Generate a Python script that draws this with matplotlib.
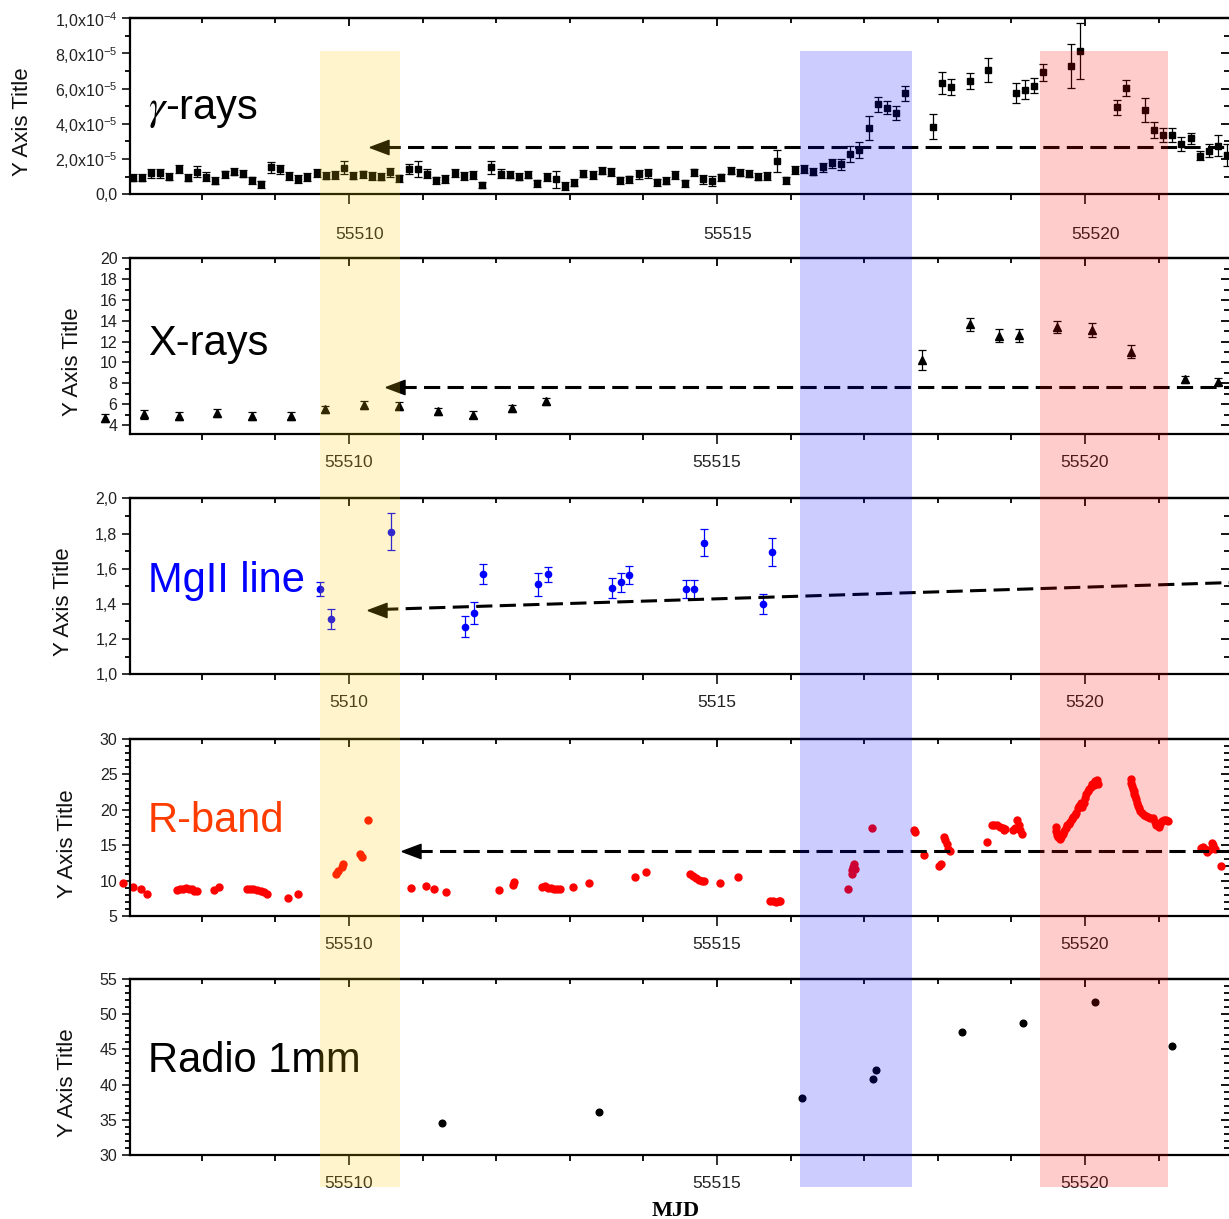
"""Multi-band light curve: gamma, X-ray, MgII, R-band and 1 mm radio vs MJD."""

import matplotlib
matplotlib.use("Agg")
import matplotlib.pyplot as plt
import numpy as np
from matplotlib.patches import Rectangle
from matplotlib.ticker import FixedLocator, MultipleLocator, NullFormatter
from matplotlib.transforms import ScaledTranslation, blended_transform_factory

plt.rcParams["font.family"] = ["Liberation Sans", "DejaVu Sans"]
plt.rcParams["mathtext.fontset"] = "custom"
plt.rcParams["mathtext.rm"] = "Liberation Sans"
plt.rcParams["mathtext.it"] = "Liberation Sans:italic"

W, H, DPI = 1229, 1219, 100

# ---- shared x axis -----------------------------------------------------------
X_LIM = (55507.024, 55521.957)
X_TICKS = [55510, 55515, 55520]
X_LABELS = ["55510", "55515", "55520"]
X_LABELS_MGII = ["5510", "5515", "5520"]

# ---- gamma rays (flux in units of 1e-5) -------------------------------------
GAMMA_YTICKS = [0, 2e-5, 4e-5, 6e-5, 8e-5, 1e-4]
GAMMA_YLABELS = ["0,0", "2,0x10$^{-5}$", "4,0x10$^{-5}$", "6,0x10$^{-5}$",
                 "8,0x10$^{-5}$", "1,0x10$^{-4}$"]
GAMMA_MJD = [
    55507.060, 55507.185, 55507.310, 55507.435, 55507.560, 55507.685, 55507.810, 55507.935,
    55508.060, 55508.185, 55508.310, 55508.435, 55508.560, 55508.685, 55508.810, 55508.935,
    55509.060, 55509.185, 55509.310, 55509.435, 55509.560, 55509.685, 55509.810, 55509.935,
    55510.060, 55510.185, 55510.310, 55510.435, 55510.560, 55510.685, 55510.810, 55510.935,
    55511.060, 55511.185, 55511.310, 55511.435, 55511.560, 55511.685, 55511.810, 55511.935,
    55512.060, 55512.185, 55512.310, 55512.435, 55512.560, 55512.685, 55512.810, 55512.935,
    55513.060, 55513.185, 55513.310, 55513.435, 55513.560, 55513.685, 55513.810, 55513.935,
    55514.060, 55514.185, 55514.310, 55514.435, 55514.560, 55514.685, 55514.810, 55514.935,
    55515.060, 55515.185, 55515.310, 55515.435, 55515.560, 55515.685, 55515.810, 55515.935,
    55516.060, 55516.185, 55516.310, 55516.435, 55516.560, 55516.685, 55516.810, 55516.935,
    55517.060, 55517.185, 55517.310, 55517.435, 55517.560,
    55517.935, 55518.060, 55518.185, 55518.435, 55518.685, 55519.060, 55519.185, 55519.310,
    55519.435, 55519.810, 55519.935, 55520.435, 55520.560, 55520.810, 55520.935, 55521.060,
    55521.185, 55521.310, 55521.435, 55521.560, 55521.685, 55521.810, 55521.935,
]
GAMMA_FLUX = [
    0.95, 0.95, 1.19, 1.19, 1.00, 1.44, 0.95, 1.29, 1.00, 0.76, 1.14, 1.29, 1.16, 0.81,
    0.57, 1.53, 1.42, 1.04, 0.87, 1.00, 1.19, 1.06, 1.10, 1.52, 1.06, 1.14, 1.04, 1.00,
    1.25, 0.91, 1.44, 1.44, 1.16, 0.81, 0.87, 1.23, 1.04, 1.10, 0.53, 1.53, 1.16, 1.10,
    1.00, 1.10, 0.63, 1.00, 0.85, 0.49, 0.66, 1.16, 1.10, 1.33, 1.25,
    0.81, 0.85, 1.14, 1.19, 0.68, 0.78, 1.10, 0.63, 1.25, 0.85, 0.76, 0.97, 1.33, 1.23,
    1.16, 1.00, 1.04, 1.89, 0.81, 1.38, 1.42, 1.29, 1.53, 1.76, 1.70, 2.29, 2.52, 3.75,
    5.11, 4.92, 4.64, 5.74,
    3.84, 6.34, 6.12, 6.44, 7.06, 5.78, 5.93, 6.17, 6.93, 7.29, 8.14, 4.94, 6.02, 4.79,
    3.66, 3.37, 3.37, 2.86, 3.18, 2.20, 2.48, 2.77, 2.23,
]
GAMMA_ERR = [
    0.20, 0.20, 0.27, 0.27, 0.20, 0.25, 0.20, 0.30, 0.25, 0.20, 0.20, 0.22, 0.20, 0.20,
    0.20, 0.33, 0.25, 0.22, 0.20, 0.22, 0.22, 0.20, 0.25, 0.38, 0.20, 0.20, 0.20, 0.20,
    0.25, 0.20, 0.30, 0.45, 0.25, 0.20, 0.20, 0.22, 0.22, 0.25, 0.18, 0.38, 0.25, 0.20,
    0.20, 0.20, 0.20, 0.22, 0.50, 0.22, 0.20, 0.20, 0.22, 0.20, 0.22,
    0.20, 0.20, 0.25, 0.25, 0.20, 0.20, 0.25, 0.20, 0.20, 0.25, 0.30, 0.20, 0.20, 0.20,
    0.20, 0.20, 0.20, 0.65, 0.20, 0.25, 0.22, 0.22, 0.25, 0.25, 0.30, 0.47, 0.45, 0.68,
    0.43, 0.37, 0.40, 0.43,
    0.72, 0.63, 0.45, 0.43, 0.69, 0.57, 0.54, 0.44, 0.47, 1.23, 1.60, 0.41, 0.45, 0.67,
    0.47, 0.38, 0.38, 0.38, 0.32, 0.26, 0.35, 0.59, 0.60,
]

# ---- X-rays ------------------------------------------------------------------
XRAY_MJD = [55506.68, 55507.22, 55507.69, 55508.21, 55508.68, 55509.21, 55509.67,
            55510.21, 55510.68, 55511.21, 55511.68, 55512.21, 55512.68, 55517.78,
            55518.44, 55518.83, 55519.10, 55519.62, 55520.09, 55520.63, 55521.36,
            55521.81]
XRAY_FLUX = [4.65, 5.03, 4.87, 5.13, 4.87, 4.87, 5.50, 5.90, 5.80, 5.30, 4.97, 5.60,
             6.26, 10.23, 13.65, 12.56, 12.63, 13.42, 13.10, 11.03, 8.38, 8.15]
XRAY_ERR = [0.37, 0.45, 0.35, 0.40, 0.35, 0.35, 0.35, 0.38, 0.38, 0.35, 0.35, 0.35,
            0.35, 0.92, 0.65, 0.62, 0.62, 0.60, 0.68, 0.60, 0.34, 0.35]

# ---- MgII line ---------------------------------------------------------------
MGII_MJD = [55509.61, 55509.75, 55510.57, 55511.58, 55511.70, 55511.82, 55512.57,
            55512.70, 55513.57, 55513.70, 55513.81, 55514.58, 55514.69, 55514.82,
            55515.62, 55515.75]
MGII_FLUX = [1.483, 1.314, 1.811, 1.271, 1.347, 1.568, 1.511, 1.568, 1.492, 1.523,
             1.564, 1.483, 1.483, 1.748, 1.398, 1.697]
MGII_ERR = [0.040, 0.057, 0.104, 0.059, 0.062, 0.057, 0.064, 0.044, 0.057, 0.055,
            0.050, 0.050, 0.055, 0.076, 0.058, 0.079]

# ---- R-band ------------------------------------------------------------------
RBAND_MJD = [
    55506.93, 55507.07, 55507.18, 55507.26, 55507.66, 55507.70, 55507.74, 55507.78,
    55507.82, 55507.86, 55507.90, 55507.93, 55508.16, 55508.23, 55508.62, 55508.66,
    55508.70, 55508.75, 55508.80, 55508.85, 55508.89, 55509.17, 55509.31, 55509.82,
    55509.85, 55509.90, 55509.92, 55510.15, 55510.17, 55510.26, 55510.84, 55511.05,
    55511.15, 55511.32, 55512.04, 55512.23, 55512.24, 55512.62, 55512.66, 55512.70,
    55512.74, 55512.78, 55512.82, 55512.86, 55513.04, 55513.26, 55513.88, 55514.04,
    55514.63, 55514.67, 55514.71, 55514.75, 55514.79, 55514.83, 55515.04, 55515.28,
    55515.72, 55515.76, 55515.80, 55515.84, 55515.86, 55516.78, 55516.83, 55516.84,
    55516.85, 55516.86, 55516.87, 55517.10, 55517.68, 55517.69, 55517.81, 55518.02,
    55518.04, 55518.08, 55518.10, 55518.12, 55518.14, 55518.17, 55518.67, 55518.73,
    55518.76, 55518.80, 55518.84, 55518.88, 55518.90, 55518.92, 55519.02, 55519.05,
    55519.08, 55519.10, 55519.12, 55519.14,
    55519.60, 55519.61, 55519.62, 55519.64, 55519.66, 55519.68, 55519.70, 55519.72,
    55519.74, 55519.76, 55519.78, 55519.80, 55519.82, 55519.84, 55519.86, 55519.88,
    55519.90, 55519.92, 55519.94, 55519.96, 55519.98, 55520.00, 55520.02, 55520.04,
    55520.06, 55520.08, 55520.10, 55520.12, 55520.14, 55520.16, 55520.18,
    55520.62, 55520.63, 55520.64, 55520.65, 55520.66, 55520.67, 55520.68, 55520.70,
    55520.71, 55520.72, 55520.73, 55520.75, 55520.77, 55520.80, 55520.83, 55520.86,
    55520.89, 55520.92, 55520.95, 55520.97, 55521.00, 55521.02, 55521.04, 55521.07,
    55521.10, 55521.13,
    55521.57, 55521.60, 55521.63, 55521.66, 55521.69, 55521.72, 55521.74, 55521.76,
    55521.85,
]
RBAND_FLUX = [
    9.60, 9.05, 8.80, 8.05, 8.65, 8.75, 8.85, 8.90, 8.85, 8.75, 8.60, 8.50, 8.65, 9.05,
    8.80, 8.85, 8.80, 8.70, 8.55, 8.40, 8.15, 7.60, 8.05, 11.00, 11.30, 11.90, 12.30,
    13.80, 13.40, 18.50, 8.90, 9.25, 8.80, 8.45, 8.65, 9.40, 9.80, 9.15, 9.20, 9.00,
    8.90, 8.80, 8.85, 8.85, 9.10, 9.70, 10.45, 11.15, 10.95, 10.70, 10.40, 10.10, 9.90,
    9.95, 9.60, 10.45, 7.10, 7.05, 7.00, 7.05, 7.10, 8.75, 11.00, 11.50, 11.90, 12.30,
    11.70, 17.50, 17.20, 16.80, 13.60, 12.10, 12.40, 16.20, 15.70, 15.10, 14.50, 14.20,
    15.50, 17.80, 17.90, 17.80, 17.60, 17.40, 17.10, 17.30, 17.20, 17.50, 18.60, 17.90,
    17.20, 16.60,
    17.60, 17.00, 16.50, 16.10, 15.90, 16.20, 16.60, 17.00, 17.40, 17.80, 18.00, 18.30,
    18.70, 19.00, 19.20, 19.60, 20.20, 20.60, 20.90, 20.40, 21.00, 21.60, 22.20, 22.60,
    22.90, 23.20, 23.60, 23.50, 24.00, 24.20, 23.60,
    24.40, 23.80, 23.40, 23.00, 22.60, 22.30, 21.90, 21.50, 21.00, 20.60, 20.20, 19.80,
    19.50, 19.30, 19.10, 19.00, 18.90, 18.80, 18.30, 17.80, 17.60, 18.00, 18.40, 18.60,
    18.60, 18.40,
    14.60, 14.80, 14.40, 14.00, 14.30, 15.30, 15.00, 14.40, 12.10,
]

# ---- radio 1 mm --------------------------------------------------------------
RADIO_MJD = [55511.27, 55513.39, 55516.16, 55517.12, 55517.16, 55518.33, 55519.16,
             55520.14, 55521.18]
RADIO_FLUX = [34.50, 36.06, 38.05, 40.75, 42.07, 47.42, 48.80, 51.78, 45.48]

# ---- annotations -------------------------------------------------------------
# dashed reference levels: (arrow tip MJD, level at tip, level at right edge)
ARROW_GAMMA = (55510.28, 2.71e-5, 2.71e-5)
ARROW_XRAY = (55510.49, 7.67, 7.67)
ARROW_MGII = (55510.25, 1.366, 1.521)
ARROW_RBAND = (55510.71, 14.18, 14.18)

# highlighted epochs (MJD start, MJD end, colour)
SHADES = [(55509.61, 55510.69, "#ffcc00"),
          (55516.13, 55517.65, "#0000ff"),
          (55519.39, 55521.13, "#ff0000")]

HEAD = [(-1, 0), (1, 0.75), (1, -0.75), (-1, 0)]

fig = plt.figure(figsize=(W / DPI, H / DPI), dpi=DPI)


def panel(top_px, bot_px):
    return fig.add_axes([130 / W, 1 - bot_px / H, 1 - 130 / W, (bot_px - top_px) / H])


def style(ax, ylim, ymajor, yminor, xlabels, xpad, ylabel_x):
    ax.set_xlim(*X_LIM)
    ax.set_ylim(*ylim)
    for sp in ax.spines.values():
        sp.set_linewidth(1.6)
    ax.spines["right"].set_visible(False)
    ax.xaxis.set_major_locator(FixedLocator(X_TICKS))
    ax.set_xticklabels(xlabels)
    ax.xaxis.set_minor_locator(MultipleLocator(1))
    ax.yaxis.set_major_locator(MultipleLocator(ymajor))
    ax.yaxis.set_minor_locator(MultipleLocator(yminor))
    ax.tick_params(axis="x", which="major", direction="out", length=7, width=1.3,
                   labelsize=12.5, pad=xpad, colors="#222222")
    ax.tick_params(axis="x", which="minor", direction="out", length=4.5, width=1.3)
    ax.tick_params(axis="y", which="major", direction="out", length=6, width=1.3,
                   labelsize=11.5, pad=3, colors="#222222")
    ax.tick_params(axis="y", which="minor", direction="out", length=3.5, width=1.3)

    top = ax.secondary_xaxis("top")
    top.xaxis.set_major_locator(FixedLocator(X_TICKS))
    top.xaxis.set_minor_locator(MultipleLocator(1))
    top.xaxis.set_major_formatter(NullFormatter())
    top.tick_params(which="major", direction="in", length=6, width=1.3)
    top.tick_params(which="minor", direction="in", length=3.5, width=1.3)
    top.spines["top"].set_linewidth(1.6)

    right = ax.secondary_yaxis("right")
    right.spines["right"].set_visible(False)
    right.yaxis.set_major_locator(MultipleLocator(ymajor))
    right.yaxis.set_minor_locator(MultipleLocator(yminor))
    right.yaxis.set_major_formatter(NullFormatter())
    right.tick_params(which="major", direction="in", length=6, width=1.3)
    right.tick_params(which="minor", direction="in", length=3.5, width=1.3)

    ax.text(ylabel_x, 0.41, "Y Axis Title", transform=ax.transAxes, rotation=90,
            ha="center", va="center", fontsize=16, color="#111111")


def name(ax, text, y, color="black", **kw):
    ax.text(0.0164, y, text, transform=ax.transAxes, fontsize=30, color=color,
            ha="left", va="baseline", **kw)


def arrow(ax, spec):
    tip_x, tip_y, end_y = spec
    x_end = X_LIM[1]
    x0 = tip_x + 0.2
    y0 = tip_y + (end_y - tip_y) * (x0 - tip_x) / (x_end - tip_x)
    ax.plot([x0, x_end], [y0, end_y], color="black", lw=2.2, ls=(0, (5.3, 2.4)),
            clip_on=False, dash_capstyle="butt")
    off = ScaledTranslation(9.5 / DPI, 0, fig.dpi_scale_trans)
    ax.plot([tip_x], [tip_y], ls="none", marker=HEAD, ms=13.7, color="black",
            transform=ax.transData + off, clip_on=False)


def errbars(ax, x, y, e, fmt, ms, color):
    cont = ax.errorbar(x, y, yerr=e, fmt=fmt, ms=ms, mfc=color, mec=color,
                       ecolor=color, elinewidth=0.9, capsize=3.2, capthick=0.9)
    for art in cont.get_children():
        art.set_clip_on(False)


# ---- gamma -------------------------------------------------------------------
ax_g = panel(18.3, 194.3)
style(ax_g, (0, 1e-4), 2e-5, 1e-5, X_LABELS, 16.5, -0.0974)
ax_g.yaxis.set_major_locator(FixedLocator(GAMMA_YTICKS))
ax_g.set_yticklabels(GAMMA_YLABELS)
shift = ScaledTranslation(11 / DPI, 0, fig.dpi_scale_trans)
for tick in ax_g.xaxis.get_major_ticks():
    tick.label1.set_transform(tick.label1.get_transform() + shift)
errbars(ax_g, GAMMA_MJD, np.array(GAMMA_FLUX) * 1e-5, np.array(GAMMA_ERR) * 1e-5,
        "s", 4.3, "black")
arrow(ax_g, ARROW_GAMMA)
name(ax_g, r"$\gamma$-rays", 0.426, math_fontfamily="stix")

# ---- X-rays ------------------------------------------------------------------
ax_x = panel(258.3, 434.3)
style(ax_x, (3.1, 20), 2, 1, X_LABELS, 8, -0.0519)
errbars(ax_x, XRAY_MJD, XRAY_FLUX, XRAY_ERR, "^", 5.5, "black")
arrow(ax_x, ARROW_XRAY)
name(ax_x, "X-rays", 0.45)

# ---- MgII ----------------------------------------------------------------------
ax_m = panel(498.3, 674.3)
style(ax_m, (1.0, 2.0), 0.2, 0.1, X_LABELS_MGII, 8, -0.0605)
ax_m.yaxis.set_major_formatter(lambda v, pos: f"{v:.1f}".replace(".", ","))
errbars(ax_m, MGII_MJD, MGII_FLUX, MGII_ERR, "o", 4.5, "#0000ff")
arrow(ax_m, ARROW_MGII)
name(ax_m, "MgII line", 0.469, "#0000ff")

# ---- R-band ------------------------------------------------------------------
ax_r = panel(739, 916)
style(ax_r, (5, 30), 5, 1, X_LABELS, 8, -0.0573)
ax_r.plot(RBAND_MJD, RBAND_FLUX, ls="none", marker="o", ms=5, color="#ff0000",
          mec="#ff0000", clip_on=False)
arrow(ax_r, ARROW_RBAND)
name(ax_r, "R-band", 0.476, "#ff3c00")

# ---- radio -------------------------------------------------------------------
ax_d = panel(979, 1155)
style(ax_d, (30, 55), 5, 1, X_LABELS, 8, -0.0573)
ax_d.plot(RADIO_MJD, RADIO_FLUX, ls="none", marker="o", ms=4.8, color="black",
          clip_on=False)
name(ax_d, "Radio 1mm", 0.473)

fig.text(676 / W, 1 - 1211 / H, "MJD", ha="center", va="center", fontsize=16,
         fontweight="bold", family="Liberation Serif")

# translucent epoch bands drawn over all panels
band_tr = blended_transform_factory(ax_d.transData, fig.transFigure)
y_lo, y_hi = 1 - 1187 / H, 1 - 51 / H
for x0, x1, col in SHADES:
    fig.add_artist(Rectangle((x0, y_lo), x1 - x0, y_hi - y_lo, transform=band_tr,
                             facecolor=col, alpha=0.2, lw=0, zorder=10))

fig.savefig("out.png", dpi=DPI)
